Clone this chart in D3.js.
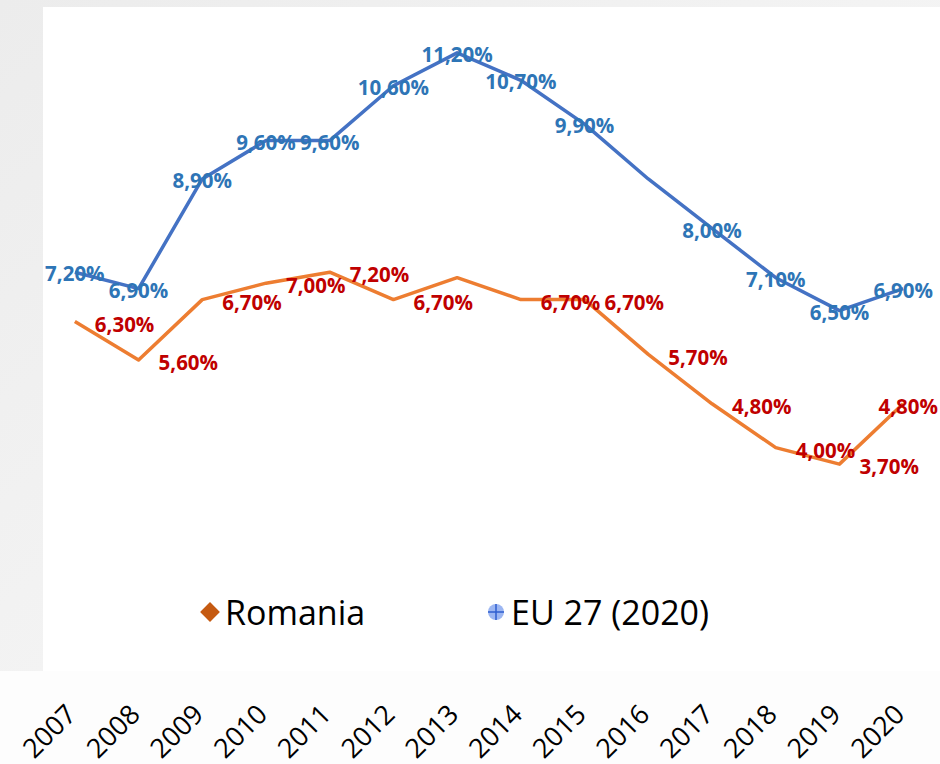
<!DOCTYPE html>
<html>
<head>
<meta charset="utf-8">
<script src="https://cdn.jsdelivr.net/npm/d3@7"></script>
<style>
  html, body { margin: 0; padding: 0; }
  body { width: 940px; height: 764px; overflow: hidden; }
  svg { display: block; font-family: "Open Sans", "Noto Sans", sans-serif; }
</style>
</head>
<body>
<svg id="svg"></svg>
<script>
// data
var years = [2007, 2008, 2009, 2010, 2011, 2012, 2013, 2014, 2015, 2016, 2017, 2018, 2019, 2020];
var romania = [6.3, 5.6, 6.7, 7.0, 7.2, 6.7, 7.1, 6.7, 6.7, 5.7, 4.8, 4.0, 3.7, 4.8];
var eu27 = [7.2, 6.9, 8.9, 9.6, 9.6, 10.6, 11.2, 10.7, 9.9, 8.9, 8.0, 7.1, 6.5, 6.9];
var romaniaNoLabel = [2013];
var euNoLabel = [2016];
var seriesNames = ["Romania", "EU 27 (2020)"];

var W = 940, H = 764;
var plot = {left: 43, top: 7, right: 940, bottom: 671};

var svg = d3.select("#svg").attr("width", W).attr("height", H);

// slide background
var defs = svg.append("defs");
var grad = defs.append("linearGradient").attr("id", "bg")
    .attr("x1", "0").attr("y1", "0").attr("x2", "1").attr("y2", "1");
grad.append("stop").attr("offset", "0%").attr("stop-color", "#ececec");
grad.append("stop").attr("offset", "100%").attr("stop-color", "#fbfbfb");
svg.append("rect").attr("width", W).attr("height", H).attr("fill", "url(#bg)");
svg.append("rect").attr("x", 0).attr("y", plot.bottom).attr("width", W).attr("height", H - plot.bottom)
    .attr("fill", "#fdfdfd");
svg.append("rect")
    .attr("x", plot.left).attr("y", plot.top)
    .attr("width", plot.right - plot.left).attr("height", plot.bottom - plot.top)
    .attr("fill", "#ffffff");

var xScale = d3.scalePoint().domain(years).range([43, 935]).padding(0.5);
var yScale = d3.scaleLinear().domain([0, 12]).range([667, 9]);

var fmt = v => d3.format(".2f")(v).replace(".", ",") + "%";

var line = d3.line()
    .x((d, i) => xScale(years[i]))
    .y(d => yScale(d));

var container = svg.append("g");

container.append("path")
    .datum(romania)
    .attr("fill", "none")
    .attr("stroke", "#ed7d31")
    .attr("stroke-width", 3.5)
    .attr("stroke-linejoin", "round")
    .attr("d", line);

container.append("path")
    .datum(eu27)
    .attr("fill", "none")
    .attr("stroke", "#4472c4")
    .attr("stroke-width", 3.5)
    .attr("stroke-linejoin", "round")
    .attr("d", line);

// data labels
var roData = romania.map((v, i) => ({year: years[i], v: v})).filter(d => romaniaNoLabel.indexOf(d.year) < 0);
var euData = eu27.map((v, i) => ({year: years[i], v: v})).filter(d => euNoLabel.indexOf(d.year) < 0);

container.selectAll("text.eu")
    .data(euData)
    .join("text")
    .attr("class", "eu")
    .attr("x", d => xScale(d.year))
    .attr("y", d => yScale(d.v) + 2)
    .attr("dy", "0.35em")
    .attr("text-anchor", "middle")
    .attr("font-size", 20.5)
    .attr("font-weight", "bold")
    .attr("fill", "#2e75b6")
    .text(d => fmt(d.v));

container.selectAll("text.ro")
    .data(roData)
    .join("text")
    .attr("class", "ro")
    .attr("x", d => xScale(d.year) + 20)
    .attr("y", d => yScale(d.v) + 3)
    .attr("dy", "0.35em")
    .attr("font-size", 20.5)
    .attr("font-weight", "bold")
    .attr("fill", "#c00000")
    .text(d => fmt(d.v))
    .each(function() {
        // keep label inside the chart area
        var w = this.getComputedTextLength();
        var x = +this.getAttribute("x");
        if (x + w > plot.right - 2) d3.select(this).attr("x", plot.right - 2 - w);
    });

// x axis labels, rotated
var xAxis = svg.append("g").attr("transform", "translate(0, 716)");
xAxis.selectAll("text")
    .data(years)
    .join("text")
    .attr("transform", d => `translate(${xScale(d) + 3}, 0) rotate(-45)`)
    .attr("text-anchor", "end")
    .attr("font-size", 27)
    .attr("fill", "#000")
    .text(d => d);

// legend
var legend = svg.append("g");
var lx = [210, 496];
var ly = 612;

legend.append("rect")
    .attr("x", lx[0] - 7).attr("y", ly - 7)
    .attr("width", 14).attr("height", 14)
    .attr("fill", "#c55a11")
    .attr("transform", `rotate(45, ${lx[0]}, ${ly})`);

legend.append("circle")
    .attr("cx", lx[1]).attr("cy", ly).attr("r", 8)
    .attr("fill", "#9cb6f2");
legend.append("path")
    .attr("d", `M${lx[1] - 8},${ly}H${lx[1] + 8}M${lx[1]},${ly - 8}V${ly + 8}`)
    .attr("stroke", "#2f5fd0").attr("stroke-width", 1.5);

legend.selectAll("text")
    .data(seriesNames)
    .join("text")
    .attr("x", (d, i) => lx[i] + 15)
    .attr("y", 625)
    .attr("font-size", 34)
    .attr("fill", "#000")
    .text(d => d);
</script>
</body>
</html>
